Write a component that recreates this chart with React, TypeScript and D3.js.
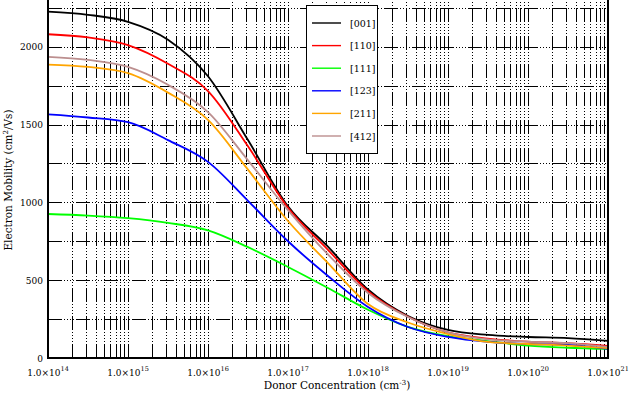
import * as d3 from "d3";

// donor concentration (cm^-3), half-decade steps
const concentrations = [
  1e14, 3.16e14, 1e15, 3.16e15, 1e16, 3.16e16, 1e17, 3.16e17, 1e18, 3.16e18,
  1e19, 3.16e19, 1e20, 3.16e20, 1e21,
];

const mob001 = [2225, 2205, 2160, 2045, 1810, 1400, 975, 715, 440, 270, 180, 148, 135, 128, 110];
const mob110 = [2080, 2060, 2010, 1890, 1715, 1360, 965, 695, 430, 265, 165, 125, 105, 95, 77];
const mob111 = [925, 915, 898, 868, 820, 712, 585, 450, 310, 200, 140, 108, 80, 66, 58];
const mob123 = [1565, 1545, 1515, 1400, 1260, 1010, 750, 527, 328, 199, 135, 103, 90, 84, 58];
const mob211 = [1885, 1870, 1830, 1705, 1530, 1210, 880, 610, 347, 228, 154, 103, 90, 80, 64];
const mob412 = [1935, 1915, 1870, 1755, 1580, 1270, 950, 665, 418, 263, 165, 120, 105, 95, 71];

const seriesNames = ["[001]", "[110]", "[111]", "[123]", "[211]", "[412]"];
const seriesColors = ["#000000", "#ff0000", "#00ff00", "#0000ff", "#ffa500", "#bc8f8f"];
const seriesValues = [mob001, mob110, mob111, mob123, mob211, mob412];

const xTickExps = [14, 15, 16, 17, 18, 19, 20, 21];
const yTicks = [0, 500, 1000, 1500, 2000];

const W = 629;
const H = 395;
const m = { l: 48, r: 21, t: 0, b: 37 };

const font = "'DejaVu Serif', serif";

export default function App() {
  const x = d3.scaleLog().domain([1e14, 1e21]).range([m.l, W - m.r]);
  const y = d3.scaleLinear().domain([0, 2300]).range([H - m.b, m.t]);

  // grid lines: every k*10^n and every 250
  const vGrid: number[] = [];
  for (let e = 14; e < 21; e++) {
    for (let k = 1; k <= 9; k++) vGrid.push(k * Math.pow(10, e));
  }
  vGrid.push(1e21);
  const hGrid = d3.range(250, 2300, 250);

  const line = d3
    .line<number>()
    .x((_, i) => x(concentrations[i]))
    .y((d) => y(d))
    .curve(d3.curveMonotoneX);

  const dash = "14,2,1,2,1,2,1,2,1,2";

  return (
    <svg
      width={W}
      height={H}
      style={{ position: "absolute", left: 0, top: 0, background: "#fff" }}
    >
      <g className="grid" stroke="#000" strokeWidth={1} strokeDasharray={dash}>
        {vGrid.map((v, i) => (
          <line key={"v" + i} x1={Math.round(x(v)) + 0.5} x2={Math.round(x(v)) + 0.5} y1={y(0)} y2={m.t} />
        ))}
        {hGrid.map((v, i) => (
          <line key={"h" + i} x1={m.l} x2={W - m.r} y1={Math.round(y(v)) + 0.5} y2={Math.round(y(v)) + 0.5} />
        ))}
      </g>

      <g className="lines" fill="none" strokeWidth={1.8}>
        {seriesValues.map((vals, i) => (
          <path key={i} d={line(vals) || ""} stroke={seriesColors[i]} />
        ))}
      </g>

      {/* frame */}
      <line x1={m.l} x2={m.l} y1={0} y2={y(0) + 1} stroke="#000" strokeWidth={2} />
      <line x1={m.l - 1} x2={W - m.r + 1} y1={y(0)} y2={y(0)} stroke="#000" strokeWidth={2} />
      <line x1={W - m.r} x2={W - m.r} y1={0} y2={y(0)} stroke="#000" strokeWidth={2} />

      {/* legend */}
      <g className="legend">
        <rect x={306.5} y={5.5} width={71} height={148} fill="#fff" stroke="#000" strokeWidth={1} />
        {seriesNames.map((name, i) => {
          const ly = 23 + i * 22.6;
          return (
            <g key={name}>
              <line x1={312} x2={341} y1={ly} y2={ly} stroke={seriesColors[i]} strokeWidth={1.4} />
              <text x={350} y={ly + 3.5} fontFamily={font} fontSize={9.5} fill="#000">
                {name}
              </text>
            </g>
          );
        })}
      </g>

      {/* y tick labels */}
      <g fontFamily={font} fontSize={9} textAnchor="end" fill="#000">
        {yTicks.map((t) => (
          <text key={t} x={43} y={y(t) + 3.5}>
            {t}
          </text>
        ))}
      </g>

      {/* x tick labels */}
      <g fontFamily={font} fontSize={9} textAnchor="middle" fill="#000">
        {xTickExps.map((e) => (
          <text key={e} x={x(Math.pow(10, e))} y={376}>
            1.0×10
            <tspan fontSize={6.5} dy={-5}>
              {e}
            </tspan>
          </text>
        ))}
      </g>

      {/* axis titles */}
      <text x={337} y={389} textAnchor="middle" fontFamily={font} fontSize={10.5} fill="#000">
        Donor Concentration (cm
        <tspan fontSize={7} dy={-4}>-3</tspan>
        <tspan dy={4}>)</tspan>
      </text>
      <text
        transform="translate(12,180) rotate(-90)"
        textAnchor="middle"
        fontFamily={font}
        fontSize={10.5}
        fill="#000"
      >
        Electron Mobility (cm
        <tspan fontSize={7} dy={-4}>2</tspan>
        <tspan dy={4}>/Vs)</tspan>
      </text>
    </svg>
  );
}
